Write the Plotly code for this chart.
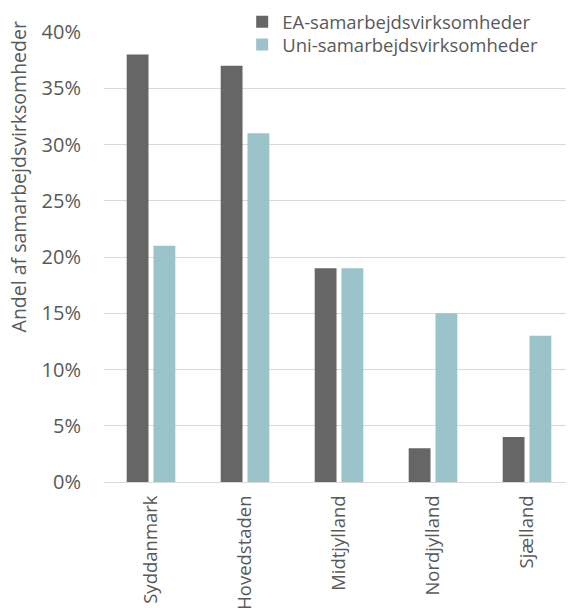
import plotly.graph_objects as go

categories = ["Syddanmark", "Hovedstaden", "Midtjylland", "Nordjylland", "Sjælland"]
ea_values = [0.38, 0.37, 0.19, 0.03, 0.04]
uni_values = [0.21, 0.31, 0.19, 0.15, 0.13]
series_names = ["EA-samarbejdsvirksomheder", "Uni-samarbejdsvirksomheder"]
y_ticks = [0, 0.05, 0.10, 0.15, 0.20, 0.25, 0.30, 0.35, 0.40]
y_title = "Andel af samarbejdsvirksomheder"

FONT = "Open Sans"
TXT = "#595959"

fig = go.Figure()
fig.add_trace(go.Bar(x=categories, y=ea_values, name=series_names[0], legend="legend",
                     marker=dict(color="#666666", line=dict(width=0))))
fig.add_trace(go.Bar(x=categories, y=uni_values, name=series_names[1], legend="legend2",
                     marker=dict(color="#9BC4CA", line=dict(width=0))))

leg_common = dict(xanchor="left", yanchor="middle", bgcolor="rgba(0,0,0,0)",
                  font=dict(size=18.5, color=TXT, family=FONT), itemwidth=30)

fig.update_layout(
    width=574, height=608,
    margin=dict(l=96, r=8, t=24, b=134, autoexpand=False),
    paper_bgcolor="white", plot_bgcolor="white",
    barmode="group", bargap=0.43, bargroupgap=0.185,
    font=dict(family=FONT, size=20, color=TXT),
    legend=dict(x=0.294, y=1.022, **leg_common),
    legend2=dict(x=0.294, y=0.971, **leg_common),
    showlegend=True,
    annotations=[dict(text=y_title, textangle=-90, xref="paper", yref="paper",
                      x=-0.183, y=0.679, xanchor="center", yanchor="middle",
                      showarrow=False, font=dict(size=19.5, color=TXT, family=FONT))],
)
fig.update_yaxes(range=[0, 0.40], tickvals=y_ticks, tickformat=".0%",
                 showgrid=True, gridcolor="#D9D9D9", gridwidth=1,
                 zeroline=False, showline=False,
                 ticks="outside", ticklen=18, tickcolor="rgba(0,0,0,0)",
                 tickfont=dict(size=20, color=TXT),
                 automargin=False)
fig.update_xaxes(tickangle=-90, showline=True, linecolor="#D9D9D9", linewidth=1,
                 ticks="outside", ticklen=5, tickcolor="rgba(0,0,0,0)",
                 tickfont=dict(size=18.5, color=TXT), automargin=False)

fig.write_html("out.html")
